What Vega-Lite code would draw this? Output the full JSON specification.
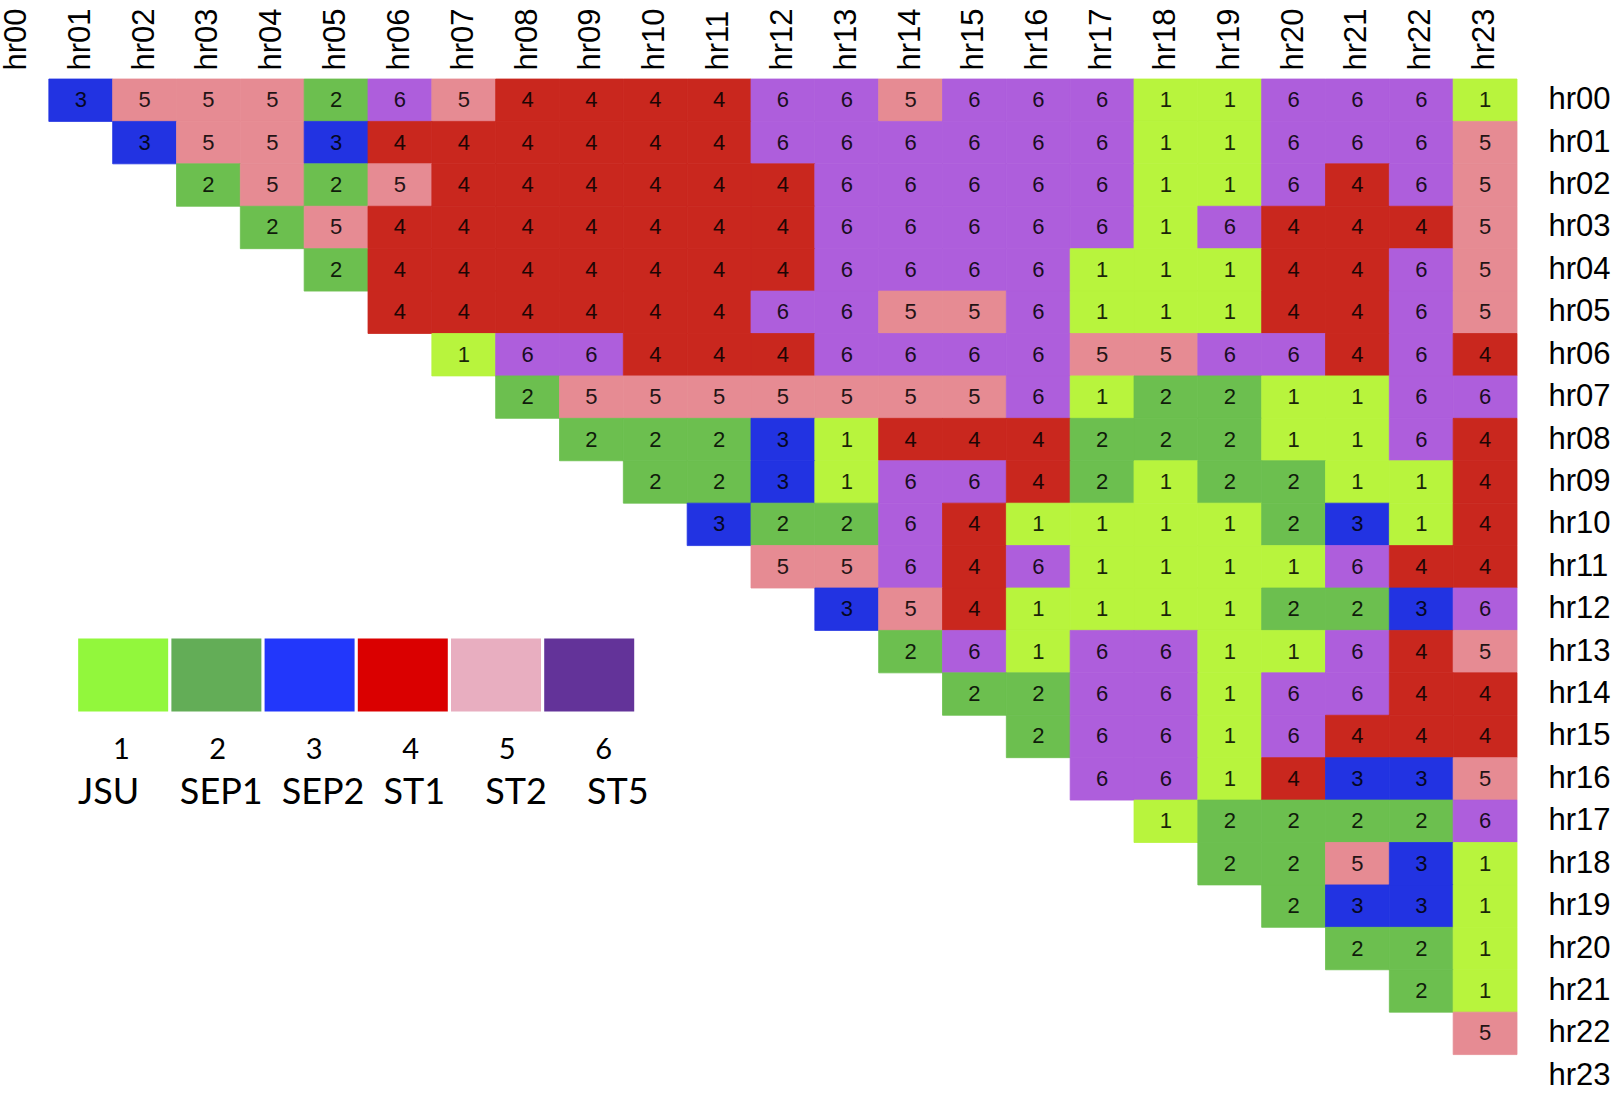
{
  "$schema": "https://vega.github.io/schema/vega-lite/v6.json",
  "width": 1532,
  "height": 1018,
  "autosize": {"type": "none"},
  "padding": {"left": -15, "top": 79, "right": 97, "bottom": 0},
  "background": "white",
  "config": {"view": {"stroke": null}},
  "datasets": {
    "cells": [
      {"row":"hr00","col":"hr01","value":3},{"row":"hr00","col":"hr02","value":5},{"row":"hr00","col":"hr03","value":5},{"row":"hr00","col":"hr04","value":5},{"row":"hr00","col":"hr05","value":2},{"row":"hr00","col":"hr06","value":6},{"row":"hr00","col":"hr07","value":5},{"row":"hr00","col":"hr08","value":4},{"row":"hr00","col":"hr09","value":4},{"row":"hr00","col":"hr10","value":4},{"row":"hr00","col":"hr11","value":4},{"row":"hr00","col":"hr12","value":6},{"row":"hr00","col":"hr13","value":6},{"row":"hr00","col":"hr14","value":5},{"row":"hr00","col":"hr15","value":6},{"row":"hr00","col":"hr16","value":6},{"row":"hr00","col":"hr17","value":6},{"row":"hr00","col":"hr18","value":1},{"row":"hr00","col":"hr19","value":1},{"row":"hr00","col":"hr20","value":6},{"row":"hr00","col":"hr21","value":6},{"row":"hr00","col":"hr22","value":6},{"row":"hr00","col":"hr23","value":1},
      {"row":"hr01","col":"hr02","value":3},{"row":"hr01","col":"hr03","value":5},{"row":"hr01","col":"hr04","value":5},{"row":"hr01","col":"hr05","value":3},{"row":"hr01","col":"hr06","value":4},{"row":"hr01","col":"hr07","value":4},{"row":"hr01","col":"hr08","value":4},{"row":"hr01","col":"hr09","value":4},{"row":"hr01","col":"hr10","value":4},{"row":"hr01","col":"hr11","value":4},{"row":"hr01","col":"hr12","value":6},{"row":"hr01","col":"hr13","value":6},{"row":"hr01","col":"hr14","value":6},{"row":"hr01","col":"hr15","value":6},{"row":"hr01","col":"hr16","value":6},{"row":"hr01","col":"hr17","value":6},{"row":"hr01","col":"hr18","value":1},{"row":"hr01","col":"hr19","value":1},{"row":"hr01","col":"hr20","value":6},{"row":"hr01","col":"hr21","value":6},{"row":"hr01","col":"hr22","value":6},{"row":"hr01","col":"hr23","value":5},
      {"row":"hr02","col":"hr03","value":2},{"row":"hr02","col":"hr04","value":5},{"row":"hr02","col":"hr05","value":2},{"row":"hr02","col":"hr06","value":5},{"row":"hr02","col":"hr07","value":4},{"row":"hr02","col":"hr08","value":4},{"row":"hr02","col":"hr09","value":4},{"row":"hr02","col":"hr10","value":4},{"row":"hr02","col":"hr11","value":4},{"row":"hr02","col":"hr12","value":4},{"row":"hr02","col":"hr13","value":6},{"row":"hr02","col":"hr14","value":6},{"row":"hr02","col":"hr15","value":6},{"row":"hr02","col":"hr16","value":6},{"row":"hr02","col":"hr17","value":6},{"row":"hr02","col":"hr18","value":1},{"row":"hr02","col":"hr19","value":1},{"row":"hr02","col":"hr20","value":6},{"row":"hr02","col":"hr21","value":4},{"row":"hr02","col":"hr22","value":6},{"row":"hr02","col":"hr23","value":5},
      {"row":"hr03","col":"hr04","value":2},{"row":"hr03","col":"hr05","value":5},{"row":"hr03","col":"hr06","value":4},{"row":"hr03","col":"hr07","value":4},{"row":"hr03","col":"hr08","value":4},{"row":"hr03","col":"hr09","value":4},{"row":"hr03","col":"hr10","value":4},{"row":"hr03","col":"hr11","value":4},{"row":"hr03","col":"hr12","value":4},{"row":"hr03","col":"hr13","value":6},{"row":"hr03","col":"hr14","value":6},{"row":"hr03","col":"hr15","value":6},{"row":"hr03","col":"hr16","value":6},{"row":"hr03","col":"hr17","value":6},{"row":"hr03","col":"hr18","value":1},{"row":"hr03","col":"hr19","value":6},{"row":"hr03","col":"hr20","value":4},{"row":"hr03","col":"hr21","value":4},{"row":"hr03","col":"hr22","value":4},{"row":"hr03","col":"hr23","value":5},
      {"row":"hr04","col":"hr05","value":2},{"row":"hr04","col":"hr06","value":4},{"row":"hr04","col":"hr07","value":4},{"row":"hr04","col":"hr08","value":4},{"row":"hr04","col":"hr09","value":4},{"row":"hr04","col":"hr10","value":4},{"row":"hr04","col":"hr11","value":4},{"row":"hr04","col":"hr12","value":4},{"row":"hr04","col":"hr13","value":6},{"row":"hr04","col":"hr14","value":6},{"row":"hr04","col":"hr15","value":6},{"row":"hr04","col":"hr16","value":6},{"row":"hr04","col":"hr17","value":1},{"row":"hr04","col":"hr18","value":1},{"row":"hr04","col":"hr19","value":1},{"row":"hr04","col":"hr20","value":4},{"row":"hr04","col":"hr21","value":4},{"row":"hr04","col":"hr22","value":6},{"row":"hr04","col":"hr23","value":5},
      {"row":"hr05","col":"hr06","value":4},{"row":"hr05","col":"hr07","value":4},{"row":"hr05","col":"hr08","value":4},{"row":"hr05","col":"hr09","value":4},{"row":"hr05","col":"hr10","value":4},{"row":"hr05","col":"hr11","value":4},{"row":"hr05","col":"hr12","value":6},{"row":"hr05","col":"hr13","value":6},{"row":"hr05","col":"hr14","value":5},{"row":"hr05","col":"hr15","value":5},{"row":"hr05","col":"hr16","value":6},{"row":"hr05","col":"hr17","value":1},{"row":"hr05","col":"hr18","value":1},{"row":"hr05","col":"hr19","value":1},{"row":"hr05","col":"hr20","value":4},{"row":"hr05","col":"hr21","value":4},{"row":"hr05","col":"hr22","value":6},{"row":"hr05","col":"hr23","value":5},
      {"row":"hr06","col":"hr07","value":1},{"row":"hr06","col":"hr08","value":6},{"row":"hr06","col":"hr09","value":6},{"row":"hr06","col":"hr10","value":4},{"row":"hr06","col":"hr11","value":4},{"row":"hr06","col":"hr12","value":4},{"row":"hr06","col":"hr13","value":6},{"row":"hr06","col":"hr14","value":6},{"row":"hr06","col":"hr15","value":6},{"row":"hr06","col":"hr16","value":6},{"row":"hr06","col":"hr17","value":5},{"row":"hr06","col":"hr18","value":5},{"row":"hr06","col":"hr19","value":6},{"row":"hr06","col":"hr20","value":6},{"row":"hr06","col":"hr21","value":4},{"row":"hr06","col":"hr22","value":6},{"row":"hr06","col":"hr23","value":4},
      {"row":"hr07","col":"hr08","value":2},{"row":"hr07","col":"hr09","value":5},{"row":"hr07","col":"hr10","value":5},{"row":"hr07","col":"hr11","value":5},{"row":"hr07","col":"hr12","value":5},{"row":"hr07","col":"hr13","value":5},{"row":"hr07","col":"hr14","value":5},{"row":"hr07","col":"hr15","value":5},{"row":"hr07","col":"hr16","value":6},{"row":"hr07","col":"hr17","value":1},{"row":"hr07","col":"hr18","value":2},{"row":"hr07","col":"hr19","value":2},{"row":"hr07","col":"hr20","value":1},{"row":"hr07","col":"hr21","value":1},{"row":"hr07","col":"hr22","value":6},{"row":"hr07","col":"hr23","value":6},
      {"row":"hr08","col":"hr09","value":2},{"row":"hr08","col":"hr10","value":2},{"row":"hr08","col":"hr11","value":2},{"row":"hr08","col":"hr12","value":3},{"row":"hr08","col":"hr13","value":1},{"row":"hr08","col":"hr14","value":4},{"row":"hr08","col":"hr15","value":4},{"row":"hr08","col":"hr16","value":4},{"row":"hr08","col":"hr17","value":2},{"row":"hr08","col":"hr18","value":2},{"row":"hr08","col":"hr19","value":2},{"row":"hr08","col":"hr20","value":1},{"row":"hr08","col":"hr21","value":1},{"row":"hr08","col":"hr22","value":6},{"row":"hr08","col":"hr23","value":4},
      {"row":"hr09","col":"hr10","value":2},{"row":"hr09","col":"hr11","value":2},{"row":"hr09","col":"hr12","value":3},{"row":"hr09","col":"hr13","value":1},{"row":"hr09","col":"hr14","value":6},{"row":"hr09","col":"hr15","value":6},{"row":"hr09","col":"hr16","value":4},{"row":"hr09","col":"hr17","value":2},{"row":"hr09","col":"hr18","value":1},{"row":"hr09","col":"hr19","value":2},{"row":"hr09","col":"hr20","value":2},{"row":"hr09","col":"hr21","value":1},{"row":"hr09","col":"hr22","value":1},{"row":"hr09","col":"hr23","value":4},
      {"row":"hr10","col":"hr11","value":3},{"row":"hr10","col":"hr12","value":2},{"row":"hr10","col":"hr13","value":2},{"row":"hr10","col":"hr14","value":6},{"row":"hr10","col":"hr15","value":4},{"row":"hr10","col":"hr16","value":1},{"row":"hr10","col":"hr17","value":1},{"row":"hr10","col":"hr18","value":1},{"row":"hr10","col":"hr19","value":1},{"row":"hr10","col":"hr20","value":2},{"row":"hr10","col":"hr21","value":3},{"row":"hr10","col":"hr22","value":1},{"row":"hr10","col":"hr23","value":4},
      {"row":"hr11","col":"hr12","value":5},{"row":"hr11","col":"hr13","value":5},{"row":"hr11","col":"hr14","value":6},{"row":"hr11","col":"hr15","value":4},{"row":"hr11","col":"hr16","value":6},{"row":"hr11","col":"hr17","value":1},{"row":"hr11","col":"hr18","value":1},{"row":"hr11","col":"hr19","value":1},{"row":"hr11","col":"hr20","value":1},{"row":"hr11","col":"hr21","value":6},{"row":"hr11","col":"hr22","value":4},{"row":"hr11","col":"hr23","value":4},
      {"row":"hr12","col":"hr13","value":3},{"row":"hr12","col":"hr14","value":5},{"row":"hr12","col":"hr15","value":4},{"row":"hr12","col":"hr16","value":1},{"row":"hr12","col":"hr17","value":1},{"row":"hr12","col":"hr18","value":1},{"row":"hr12","col":"hr19","value":1},{"row":"hr12","col":"hr20","value":2},{"row":"hr12","col":"hr21","value":2},{"row":"hr12","col":"hr22","value":3},{"row":"hr12","col":"hr23","value":6},
      {"row":"hr13","col":"hr14","value":2},{"row":"hr13","col":"hr15","value":6},{"row":"hr13","col":"hr16","value":1},{"row":"hr13","col":"hr17","value":6},{"row":"hr13","col":"hr18","value":6},{"row":"hr13","col":"hr19","value":1},{"row":"hr13","col":"hr20","value":1},{"row":"hr13","col":"hr21","value":6},{"row":"hr13","col":"hr22","value":4},{"row":"hr13","col":"hr23","value":5},
      {"row":"hr14","col":"hr15","value":2},{"row":"hr14","col":"hr16","value":2},{"row":"hr14","col":"hr17","value":6},{"row":"hr14","col":"hr18","value":6},{"row":"hr14","col":"hr19","value":1},{"row":"hr14","col":"hr20","value":6},{"row":"hr14","col":"hr21","value":6},{"row":"hr14","col":"hr22","value":4},{"row":"hr14","col":"hr23","value":4},
      {"row":"hr15","col":"hr16","value":2},{"row":"hr15","col":"hr17","value":6},{"row":"hr15","col":"hr18","value":6},{"row":"hr15","col":"hr19","value":1},{"row":"hr15","col":"hr20","value":6},{"row":"hr15","col":"hr21","value":4},{"row":"hr15","col":"hr22","value":4},{"row":"hr15","col":"hr23","value":4},
      {"row":"hr16","col":"hr17","value":6},{"row":"hr16","col":"hr18","value":6},{"row":"hr16","col":"hr19","value":1},{"row":"hr16","col":"hr20","value":4},{"row":"hr16","col":"hr21","value":3},{"row":"hr16","col":"hr22","value":3},{"row":"hr16","col":"hr23","value":5},
      {"row":"hr17","col":"hr18","value":1},{"row":"hr17","col":"hr19","value":2},{"row":"hr17","col":"hr20","value":2},{"row":"hr17","col":"hr21","value":2},{"row":"hr17","col":"hr22","value":2},{"row":"hr17","col":"hr23","value":6},
      {"row":"hr18","col":"hr19","value":2},{"row":"hr18","col":"hr20","value":2},{"row":"hr18","col":"hr21","value":5},{"row":"hr18","col":"hr22","value":3},{"row":"hr18","col":"hr23","value":1},
      {"row":"hr19","col":"hr20","value":2},{"row":"hr19","col":"hr21","value":3},{"row":"hr19","col":"hr22","value":3},{"row":"hr19","col":"hr23","value":1},
      {"row":"hr20","col":"hr21","value":2},{"row":"hr20","col":"hr22","value":2},{"row":"hr20","col":"hr23","value":1},
      {"row":"hr21","col":"hr22","value":2},{"row":"hr21","col":"hr23","value":1},
      {"row":"hr22","col":"hr23","value":5}
    ],
    "legend": [
      {"code": 1, "name": "JSU"},
      {"code": 2, "name": "SEP1"},
      {"code": 3, "name": "SEP2"},
      {"code": 4, "name": "ST1"},
      {"code": 5, "name": "ST2"},
      {"code": 6, "name": "ST5"}
    ]
  },
  "layer": [
    {
      "data": {"name": "cells"},
      "layer": [
        {
          "mark": {"type": "rect", "strokeWidth": 0.8},
          "encoding": {
            "x": {
              "field": "col", "type": "ordinal",
              "scale": {"type": "band", "paddingInner": 0, "paddingOuter": 0,
                "domain": ["hr00","hr01","hr02","hr03","hr04","hr05","hr06","hr07","hr08","hr09","hr10","hr11","hr12","hr13","hr14","hr15","hr16","hr17","hr18","hr19","hr20","hr21","hr22","hr23"]},
              "axis": {"orient": "top", "title": null, "labelAngle": 270, "labelAlign": "left", "labelBaseline": "middle",
                "labelFont": "Liberation Sans", "labelFontSize": 31, "labelColor": "#000000", "labelPadding": 9,
                "ticks": false, "tickSize": 0, "domain": false, "grid": false}
            },
            "y": {
              "field": "row", "type": "ordinal",
              "scale": {"type": "band", "paddingInner": 0, "paddingOuter": 0,
                "domain": ["hr00","hr01","hr02","hr03","hr04","hr05","hr06","hr07","hr08","hr09","hr10","hr11","hr12","hr13","hr14","hr15","hr16","hr17","hr18","hr19","hr20","hr21","hr22","hr23"]},
              "axis": {"orient": "right", "title": null, "labelFont": "Liberation Sans", "labelFontSize": 31, "labelColor": "#000000",
                "labelPadding": 31, "labelAlign": "left", "labelBaseline": "middle",
                "ticks": false, "tickSize": 0, "domain": false, "grid": false}
            },
            "color": {
              "field": "value", "type": "ordinal",
              "scale": {"domain": [1,2,3,4,5,6], "range": ["#B8F43D","#6CBF4F","#2233E2","#C9271E","#E68B93","#AE5EDC"]},
              "legend": null
            },
            "stroke": {
              "field": "value", "type": "ordinal",
              "scale": {"domain": [1,2,3,4,5,6], "range": ["#B8F43D","#6CBF4F","#2233E2","#C9271E","#E68B93","#AE5EDC"]},
              "legend": null
            }
          }
        },
        {
          "mark": {"type": "text", "font": "Liberation Sans", "fontSize": 22, "color": "#000000", "opacity": 0.85},
          "encoding": {
            "x": {"field": "col", "type": "ordinal"},
            "y": {"field": "row", "type": "ordinal"},
            "text": {"field": "value", "type": "nominal"}
          }
        }
      ]
    },
    {
      "data": {"name": "legend"},
      "mark": {"type": "rect", "width": 90, "height": 73, "yOffset": -19},
      "encoding": {
        "x": {"field": "code", "type": "quantitative", "scale": {"domain": [-0.4824, 15.954], "nice": false, "zero": false}, "axis": null},
        "y": {"datum": "hr14", "type": "ordinal",
          "scale": {"type": "band", "paddingInner": 0, "paddingOuter": 0,
            "domain": ["hr00","hr01","hr02","hr03","hr04","hr05","hr06","hr07","hr08","hr09","hr10","hr11","hr12","hr13","hr14","hr15","hr16","hr17","hr18","hr19","hr20","hr21","hr22","hr23"]},
          "axis": null},
        "color": {
          "field": "code", "type": "ordinal",
          "scale": {"domain": [1,2,3,4,5,6], "range": ["#92F73C","#63AD57","#2237FB","#DA0000","#E8AEC0","#633399"]},
          "legend": null
        }
      }
    },
    {
      "data": {"name": "legend"},
      "mark": {"type": "text", "font": "Lato", "fontSize": 29, "color": "#000000", "align": "center", "baseline": "middle", "dy": 14},
      "encoding": {
        "x": {"field": "code", "type": "quantitative", "scale": {"domain": [-0.4132, 15.471], "nice": false, "zero": false}, "axis": null},
        "y": {"datum": "hr15", "type": "ordinal",
          "scale": {"type": "band", "paddingInner": 0, "paddingOuter": 0,
            "domain": ["hr00","hr01","hr02","hr03","hr04","hr05","hr06","hr07","hr08","hr09","hr10","hr11","hr12","hr13","hr14","hr15","hr16","hr17","hr18","hr19","hr20","hr21","hr22","hr23"]},
          "axis": null},
        "text": {"field": "code", "type": "nominal"}
      }
    },
    {
      "data": {"name": "legend"},
      "mark": {"type": "text", "font": "Lato", "fontSize": 36, "color": "#000000", "align": "left", "baseline": "middle", "dy": 14},
      "encoding": {
        "x": {"field": "code", "type": "quantitative", "scale": {"domain": [0.0855, 15.137], "nice": false, "zero": false}, "axis": null},
        "y": {"datum": "hr16", "type": "ordinal",
          "scale": {"type": "band", "paddingInner": 0, "paddingOuter": 0,
            "domain": ["hr00","hr01","hr02","hr03","hr04","hr05","hr06","hr07","hr08","hr09","hr10","hr11","hr12","hr13","hr14","hr15","hr16","hr17","hr18","hr19","hr20","hr21","hr22","hr23"]},
          "axis": null},
        "text": {"field": "name", "type": "nominal"}
      }
    }
  ],
  "resolve": {"scale": {"x": "independent", "y": "independent", "color": "independent", "stroke": "independent"}}
}
